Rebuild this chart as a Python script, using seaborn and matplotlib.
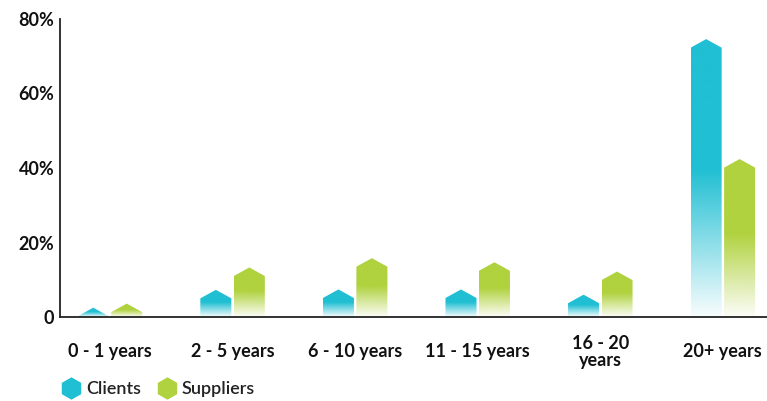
import numpy as np
import pandas as pd
import matplotlib
matplotlib.use("Agg")
from matplotlib import pyplot as plt
from matplotlib.patches import Polygon
from matplotlib.lines import Line2D
from matplotlib.colors import to_rgb
import seaborn as sns

####### Data #######

CATEGORIES = ["0 - 1 years", "2 - 5 years", "6 - 10 years",
              "11 - 15 years", "16 - 20\nyears", "20+ years"]
CLIENTS = [0.2, 5.0, 5.1, 5.1, 3.7, 72.3]
SUPPLIERS = [1.3, 11.0, 13.5, 12.4, 9.9, 40.1]
SERIES = ["Clients", "Suppliers"]
COLORS = ["#20bfd3", "#b0d23e"]
YTICKS = [0, 20, 40, 60, 80]
YTICK_LABELS = ["0", "20%", "40%", "60%", "80%"]

TIP = 2.3    # height of the arrow tip on each bar (in % units)
FADE = 0.53  # lower share of the bar that fades out towards the axis

####### Helper functions #######

def gradient_bar(ax, patch, color):
    """Swap a plain bar for an arrow-topped bar that fades at the bottom"""
    x0, w, h = patch.get_x(), patch.get_width(), patch.get_height()
    patch.set_visible(False)
    top = h + TIP
    verts = [(x0, 0), (x0, h), (x0 + w / 2, top), (x0 + w, h), (x0 + w, 0)]
    shape = Polygon(verts, closed=True, facecolor="none", edgecolor="none",
                    transform=ax.transData)
    ax.add_patch(shape)

    n = 256
    frac = np.linspace(0, 1, n)
    alpha = np.clip(0.03 + frac / FADE * 0.97, 0, 1)
    img = np.zeros((n, 1, 4))
    img[:, 0, :3] = to_rgb(color)
    img[:, 0, 3] = alpha
    im = ax.imshow(img, extent=[x0, x0 + w, 0, top], origin="lower",
                   aspect="auto", interpolation="bilinear", zorder=2)
    im.set_clip_path(shape)


sns.set_style("white")
plt.rcParams["font.family"] = ["Lato", "DejaVu Sans"]

df = pd.DataFrame({
    "age": CATEGORIES * 2,
    "share": CLIENTS + SUPPLIERS,
    "who": [SERIES[0]] * len(CATEGORIES) + [SERIES[1]] * len(CATEGORIES),
})

fig = plt.figure(figsize=(7.67, 4.01), dpi=100)
ax = fig.add_axes([60 / 767, 84 / 401, 707 / 767, 298 / 401])

sns.barplot(data=df, x="age", y="share", hue="who", order=CATEGORIES,
            hue_order=SERIES, palette=COLORS, saturation=1, width=0.546,
            gap=0.073, errorbar=None, legend=False, ax=ax)

for container, color in zip(ax.containers, COLORS):
    for patch in container.patches:
        gradient_bar(ax, patch, color)

ax.set_xlim(-0.408, 5.36)
ax.set_ylim(0, 80)
ax.set_yticks(YTICKS)
ax.set_yticklabels(YTICK_LABELS)
ax.set_xlabel("")
ax.set_ylabel("")
sns.despine(ax=ax)
for side in ["left", "bottom"]:
    ax.spines[side].set_color("#222222")
    ax.spines[side].set_linewidth(1.3)

ax.tick_params(axis="y", length=0, pad=4, labelsize=13, labelcolor="#111111")
ax.tick_params(axis="x", length=0, pad=25, labelsize=13, labelcolor="#111111")
for lab in ax.get_yticklabels():
    lab.set_fontweight("bold")
for lab in ax.get_xticklabels():
    lab.set_fontweight("bold")
    lab.set_verticalalignment("center")
    lab.set_linespacing(1.0)

handles = [Line2D([], [], marker="h", linestyle="none", markersize=15,
                  markerfacecolor=c, markeredgecolor=c) for c in COLORS]
fig.legend(handles, SERIES, loc="center left", bbox_to_anchor=(62 / 767, 12 / 401),
           ncol=2, frameon=False, prop={"size": 13, "weight": "semibold"},
           handlelength=1.0, handletextpad=0.35, columnspacing=0.9,
           borderpad=0, borderaxespad=0, labelcolor="#222222")

plt.savefig("out.png", dpi=100)
